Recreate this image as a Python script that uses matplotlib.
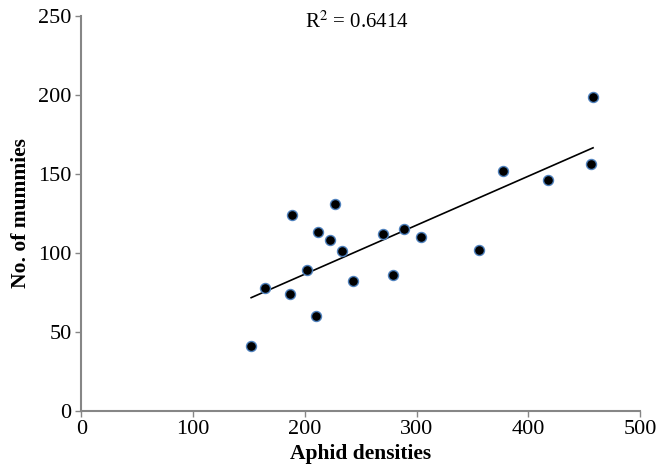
import numpy as np
import matplotlib
matplotlib.use("Agg")
import matplotlib.pyplot as plt

# Aphid densities vs number of mummies
aphids = [152, 164, 187, 189, 202, 210, 212, 223, 227, 233,
          243, 270, 279, 289, 304, 356, 377, 418, 456, 458]
mummies = [41, 78, 74, 124, 89, 60, 113, 108, 131, 101,
           82, 112, 86, 115, 110, 102, 152, 146, 156, 199]
r2_label = "0.6414"

x_ticks = [0, 100, 200, 300, 400, 500]
y_ticks = [0, 50, 100, 150, 200, 250]

plt.rcParams['font.family'] = ['Liberation Serif', 'DejaVu Serif']
plt.rcParams['mathtext.fontset'] = 'stix'

fig = plt.figure(figsize=(6.58, 4.73), dpi=100)
ax = fig.add_axes([0.1236, 0.1317, 0.8490, 0.8345])

ax.scatter(aphids, mummies, s=52, c='black', edgecolors='#4F81BD',
           linewidths=1.0, zorder=3)

# linear trendline
x = np.array(aphids, dtype=float)
y = np.array(mummies, dtype=float)
slope, intercept = np.polyfit(x, y, 1)
xs = np.array([x.min(), x.max()])
ax.plot(xs, slope * xs + intercept, color='black', lw=1.2, zorder=2)

ax.text(0.494, 0.985, r'R$^2$ = ' + r2_label, transform=ax.transAxes,
        ha='center', va='center', fontsize=15)

ax.set_xlim(0, 500)
ax.set_ylim(0, 250)
ax.set_xticks(x_ticks)
ax.set_yticks(y_ticks)

for side in ['top', 'right']:
    ax.spines[side].set_visible(False)
for side in ['left', 'bottom']:
    ax.spines[side].set_color('#868686')
    ax.spines[side].set_linewidth(1.5)
ax.tick_params(axis='both', direction='out', length=4.5, width=1,
               color='#868686', labelsize=16, pad=2.5)

ax.set_xlabel('Aphid densities', fontsize=15.5, fontweight='bold', labelpad=3)
ax.set_ylabel('No. of mummies', fontsize=15.5, fontweight='bold', labelpad=5)

fig.savefig('out.png', dpi=100)
